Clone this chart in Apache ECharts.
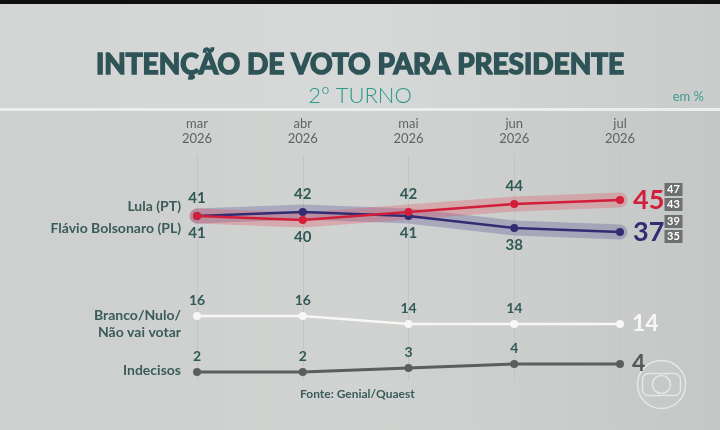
<!DOCTYPE html>
<html>
<head>
<meta charset="utf-8">
<script src="https://cdn.jsdelivr.net/npm/echarts@6/dist/echarts.min.js"></script>
<style>
  html, body { margin: 0; padding: 0; background: #d3d6d4; }
  #chart { width: 720px; height: 430px; }
</style>
</head>
<body>
<div id="chart"></div>
<script>
const months = ["mar\n2026", "abr\n2026", "mai\n2026", "jun\n2026", "jul\n2026"];
const lula = [41, 40, 42, 44, 45];
const bolsonaro = [41, 42, 41, 38, 37];
const branco = [16, 16, 14, 14, 14];
const indecisos = [2, 2, 3, 4, 4];
const lulaRange = [47, 43];
const bolsonaroRange = [39, 35];

const FONT = "Lato";
const LABEL_COLOR = "#2f5a55";
const COLORS = {
  lula: "#d11f3a",
  bolsonaro: "#332c72",
  branco: "#f7f7f5",
  indecisos: "#5c5e5d",
};

// each point label sits above or below depending on which candidate leads there
function candidateData(values, other, isLula, color) {
  return values.map((v, i) => {
    const last = i === values.length - 1;
    if (last) {
      return {
        value: v,
        label: {
          show: true,
          position: "right",
          distance: 9,
          color: color,
          fontSize: 27,
          fontWeight: "bold",
          fontFamily: FONT,
        },
      };
    }
    const above = v > other[i] || (v === other[i] && isLula);
    return {
      value: v,
      label: {
        show: true,
        position: above ? "top" : "bottom",
        distance: 6,
        color: LABEL_COLOR,
        fontSize: 15,
        fontWeight: "bold",
        fontFamily: FONT,
      },
    };
  });
}

function simpleData(values, endColor) {
  return values.map((v, i) => {
    const last = i === values.length - 1;
    return {
      value: v,
      label: last
        ? { show: true, position: "right", distance: 8, color: endColor, fontSize: 23, fontWeight: "bold", fontFamily: FONT }
        : { show: true, position: "top", distance: 5, color: LABEL_COLOR, fontSize: 14, fontWeight: "bold", fontFamily: FONT },
    };
  });
}

function rangeMark(values, range) {
  const last = values.length - 1;
  return {
    silent: true,
    symbol: "circle",
    symbolSize: 1,
    itemStyle: { color: "rgba(0,0,0,0)" },
    data: [{
      coord: [last, values[last]],
      label: {
        show: true,
        position: "right",
        distance: 0,
        offset: [44, -3],
        formatter: `{b|${range[0]}}\n{b|${range[1]}}`,
        rich: {
          b: {
            backgroundColor: "#6e706f",
            color: "#ffffff",
            fontSize: 11,
            fontWeight: "bold",
            fontFamily: FONT,
            width: 18,
            height: 13,
            lineHeight: 15,
            align: "center",
          },
        },
      },
    }],
  };
}

function band(name, values, color) {
  return {
    name: name + " band",
    type: "line",
    data: values,
    symbol: "none",
    silent: true,
    z: 1,
    lineStyle: { width: 15, color: color, cap: "round", join: "round" },
  };
}

const chart = echarts.init(document.getElementById("chart"), null, { renderer: "canvas" });

const leftLabel = (text, y, lh) => ({
  type: "text",
  right: 720 - 181,
  top: y,
  style: {
    text: text,
    fill: "#3a5c58",
    font: `bold 14px ${FONT}`,
    textAlign: "right",
    lineHeight: lh || 16,
  },
});

chart.setOption({
  backgroundColor: {
    type: "linear", x: 0, y: 0, x2: 1, y2: 0,
    colorStops: [
      { offset: 0, color: "#d2d5d3" },
      { offset: 0.5, color: "#d6d9d7" },
      { offset: 1, color: "#c9ccca" },
    ],
  },
  animation: false,
  grid: { left: 197, right: 100, top: 155, bottom: 50, containLabel: false },
  xAxis: {
    type: "category",
    position: "top",
    boundaryGap: false,
    data: months,
    axisLine: { show: false },
    axisTick: { show: false },
    axisLabel: {
      color: "#5f6462",
      fontSize: 13,
      lineHeight: 15,
      margin: 9,
      fontFamily: FONT,
    },
    splitLine: { show: true, lineStyle: { color: "#c1c4c2", width: 1 } },
  },
  yAxis: {
    type: "value",
    min: 0,
    max: 56.25,
    show: false,
  },
  graphic: [
    { type: "rect", left: 0, top: 0, shape: { width: 720, height: 4 }, style: { fill: "#0e0f0e" }, z: -1 },
    { type: "rect", left: 0, top: 110, shape: { width: 720, height: 320 }, style: { fill: "rgba(0,0,0,0.025)" }, z: -1 },
    { type: "rect", left: 0, top: 108, shape: { width: 720, height: 3 }, style: { fill: "#eceeed" }, z: -1 },
    {
      type: "text", left: "center", top: 50,
      style: {
        text: "INTENÇÃO DE VOTO PARA PRESIDENTE",
        fill: "#2e5457",
        font: `bold 28px ${FONT}`,
        stroke: "#2e5457",
        lineWidth: 1.6,
      },
    },
    {
      type: "text", left: "center", top: 85,
      style: { text: "2º TURNO", fill: "#2a9a8a", font: `300 22px ${FONT}` },
    },
    {
      type: "text", right: 16, top: 90,
      style: { text: "em %", fill: "#3e9c8c", font: `13px ${FONT}` },
    },
    leftLabel("Lula (PT)", 198),
    leftLabel("Flávio Bolsonaro (PL)", 220),
    leftLabel("Branco/Nulo/\nNão vai votar", 307, 17),
    leftLabel("Indecisos", 362),
    {
      type: "text", left: 300, top: 388,
      style: { text: "Fonte: Genial/Quaest", fill: "#3a5c58", font: `bold 12px ${FONT}` },
    },
    {
      type: "group", left: 635, top: 358,
      children: [
        { type: "circle", shape: { cx: 25, cy: 25, r: 24 }, style: { fill: "none", stroke: "rgba(255,255,255,0.55)", lineWidth: 1.5 } },
        { type: "rect", shape: { x: 6, y: 14, width: 38, height: 22, r: 6 }, style: { fill: "none", stroke: "rgba(255,255,255,0.55)", lineWidth: 1.5 } },
        { type: "circle", shape: { cx: 25, cy: 25, r: 9 }, style: { fill: "none", stroke: "rgba(255,255,255,0.55)", lineWidth: 1.5 } },
      ],
    },
  ],
  series: [
    band("Flávio Bolsonaro", bolsonaro, "rgba(90,84,150,0.32)"),
    band("Lula", lula, "rgba(226,70,84,0.28)"),
    {
      name: "Branco/Nulo/Não vai votar",
      type: "line",
      data: simpleData(branco, "#f7f7f5"),
      symbol: "circle",
      symbolSize: 8,
      z: 3,
      itemStyle: { color: COLORS.branco },
      lineStyle: { width: 2.5, color: COLORS.branco },
    },
    {
      name: "Indecisos",
      type: "line",
      data: simpleData(indecisos, "#555756"),
      symbol: "circle",
      symbolSize: 8,
      z: 3,
      itemStyle: { color: COLORS.indecisos },
      lineStyle: { width: 3, color: COLORS.indecisos },
    },
    {
      name: "Flávio Bolsonaro (PL)",
      type: "line",
      data: candidateData(bolsonaro, lula, false, COLORS.bolsonaro),
      symbol: "circle",
      symbolSize: 8,
      z: 4,
      itemStyle: { color: COLORS.bolsonaro },
      lineStyle: { width: 2.5, color: COLORS.bolsonaro },
      markPoint: rangeMark(bolsonaro, bolsonaroRange),
    },
    {
      name: "Lula (PT)",
      type: "line",
      data: candidateData(lula, bolsonaro, true, COLORS.lula),
      symbol: "circle",
      symbolSize: 8,
      z: 5,
      itemStyle: { color: COLORS.lula },
      lineStyle: { width: 2.5, color: COLORS.lula },
      markPoint: rangeMark(lula, lulaRange),
    },
  ],
});
</script>
</body>
</html>
